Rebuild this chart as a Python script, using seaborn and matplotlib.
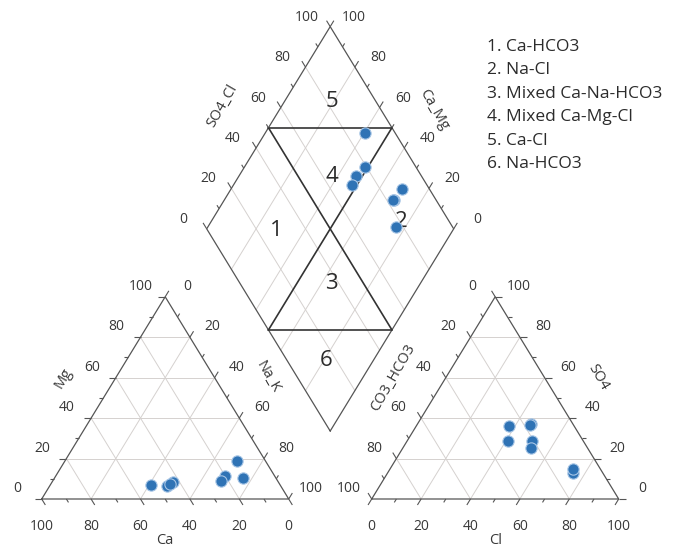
import numpy as np
import pandas as pd
import matplotlib
matplotlib.use('Agg')
import matplotlib.pyplot as plt
import seaborn as sns

# cation percentages (meq %) per sample
ca = [52.3, 46.1, 42.7, 44.5, 11.6, 20.1, 13.4, 23.1]
mg = [7.1, 6.6, 8.6, 7.5, 19.0, 11.3, 10.4, 8.8]
na_k = [40.6, 47.3, 48.7, 48.0, 69.4, 68.6, 76.2, 68.1]

# anion percentages (meq %) per sample
co3_hco3 = [12.2, 26.5, 20.7, 30.3, 10.9, 17.0, 23.0, 17.5]
so4 = [12.8, 35.9, 28.5, 28.7, 14.9, 37.3, 25.4, 36.5]
cl = [75.0, 37.6, 50.8, 41.0, 74.2, 45.7, 51.6, 46.0]

tick_values = [0, 20, 40, 60, 80, 100]
facies = ['1. Ca-HCO3', '2. Na-Cl', '3. Mixed Ca-Na-HCO3',
          '4. Mixed Ca-Mg-Cl', '5. Ca-Cl', '6. Na-HCO3']
region_ids = ['1', '2', '3', '4', '5', '6']

# layout
H = np.sqrt(3) / 2
GAP = 0.336
AN_X0 = 1 + GAP
BX, BY = 1 + GAP / 2, GAP * H
PX_X, PX_Y = 247.0, 233.5  # pixels per data unit
EDGE = '#555555'
GRID = '#d5d1cf'
TXT = '#383838'
POINT = '#2f73b5'

# label anchors of the facies numbers, in (Ca_Mg, SO4_Cl) fractions
region_pos = [(0.714, 0.28), (0.228, 0.807), (0.36, 0.37),
              (0.623, 0.635), (0.809, 0.82), (0.19, 0.16)]


def tri(p0, p1, p2, x0=0.0):
    """left vertex p0, right vertex p1, apex p2 (fractions)"""
    return x0 + p1 + 0.5 * p2, H * p2


def dia(a, s):
    """a = Ca+Mg fraction, s = SO4+Cl fraction"""
    return BX + 0.5 * (s - a), BY + H * (a + s)


def tick(ax, x, y, d, length):
    dx, dy = d
    n = np.hypot(dx * PX_X, dy * PX_Y)
    ax.plot([x, x + dx / n * length], [y, y + dy / n * length],
            color=EDGE, lw=0.8, solid_capstyle='butt')


def label(ax, text, x, y, off, size=10, rot=0):
    ax.annotate(text, xy=(x, y), xytext=off, textcoords='offset pixels',
                ha='center', va='center', fontsize=size, color=TXT,
                rotation=rot, rotation_mode='anchor')


def draw_triangle(ax, x0, edges, titles):
    # grid
    for c in [0.2, 0.4, 0.6, 0.8]:
        for pa, pb in [((c, 1 - c, 0), (c, 0, 1 - c)),
                       ((1 - c, c, 0), (0, c, 1 - c)),
                       ((1 - c, 0, c), (0, 1 - c, c))]:
            xa, ya = tri(*pa, x0=x0)
            xb, yb = tri(*pb, x0=x0)
            ax.plot([xa, xb], [ya, yb], color=GRID, lw=0.7, zorder=1)
    # outline
    vx = [tri(1, 0, 0, x0)[0], tri(0, 1, 0, x0)[0], tri(0, 0, 1, x0)[0]]
    vy = [0, 0, H]
    ax.plot(vx + [vx[0]], vy + [vy[0]], color=EDGE, lw=0.9, zorder=2)
    # ticks and tick labels
    for fn, d, off in edges:
        for v in range(0, 101, 10):
            x, y = fn(v / 100)
            tick(ax, x, y, d, 7 if v % 20 == 0 else 4)
        for v in tick_values:
            x, y = fn(v / 100)
            label(ax, str(v), x, y, off)
    for text, fn, t, off, rot in titles:
        x, y = fn(t)
        label(ax, text, x, y, off, size=10.5, rot=rot)


sns.set_style('white')
plt.rcParams['font.family'] = ['Open Sans', 'DejaVu Sans']

fig = plt.figure(figsize=(6.81, 5.5), dpi=100)
ax = fig.add_axes([0, 0, 1, 1])

# cation triangle: Ca left, Na_K right, Mg top
cat_bottom = lambda t: tri(t, 1 - t, 0)
cat_left = lambda t: tri(1 - t, 0, t)
cat_right = lambda t: tri(0, t, 1 - t)
draw_triangle(ax, 0.0,
              [(cat_bottom, (0.5, -H), (0, -27.5)),
               (cat_left, (-1, 0), (-24, 10.5)),
               (cat_right, (0.5, H), (22.5, 10.5))],
              [('Ca', cat_bottom, 0.5, (0, -42), 0),
               ('Mg', cat_left, 0.6, (-52, 0), 60),
               ('Na_K', cat_right, 0.4, (53, 1), -60)])

# anion triangle: CO3_HCO3 left, Cl right, SO4 top
an_bottom = lambda t: tri(1 - t, t, 0, AN_X0)
an_left = lambda t: tri(t, 0, 1 - t, AN_X0)
an_right = lambda t: tri(0, 1 - t, t, AN_X0)
draw_triangle(ax, AN_X0,
              [(an_bottom, (-0.5, -H), (0, -27.5)),
               (an_left, (-0.5, H), (-22.5, 10.5)),
               (an_right, (1, 0), (23.5, 10.5))],
              [('Cl', an_bottom, 0.5, (0, -42), 0),
               ('CO3_HCO3', an_left, 0.4, (-52.5, 0), 60),
               ('SO4', an_right, 0.6, (54, 0), -60)])

# diamond
for c in [0.2, 0.4, 0.6, 0.8]:
    for pa, pb in [((c, 0), (c, 1)), ((0, c), (1, c))]:
        xa, ya = dia(*pa)
        xb, yb = dia(*pb)
        ax.plot([xa, xb], [ya, yb], color=GRID, lw=0.7, zorder=1)
corners = [dia(0, 0), dia(1, 0), dia(1, 1), dia(0, 1), dia(0, 0)]
ax.plot([p[0] for p in corners], [p[1] for p in corners], color=EDGE, lw=0.9, zorder=2)
for pa, pb in [((1, 0.5), (0.5, 1)), ((1, 0.5), (0, 0.5)),
               ((0.5, 1), (0.5, 0)), ((0.5, 0), (0, 0.5))]:
    xa, ya = dia(*pa)
    xb, yb = dia(*pb)
    ax.plot([xa, xb], [ya, yb], color='#333333', lw=1.2, zorder=2)

dia_left = lambda t: dia(1, t)
dia_right = lambda t: dia(t, 1)
for fn, d, off in [(dia_left, (-0.5, H), (-23, 9.5)), (dia_right, (0.5, H), (23.5, 9.5))]:
    for v in range(0, 101, 10):
        x, y = fn(v / 100)
        tick(ax, x, y, d, 7 if v % 20 == 0 else 4)
    for v in tick_values:
        x, y = fn(v / 100)
        label(ax, str(v), x, y, off)
x, y = dia_left(0.6)
label(ax, 'SO4_Cl', x, y, (-59, 1.5), size=10.5, rot=60)
x, y = dia_right(0.6)
label(ax, 'Ca_Mg', x, y, (54, -2), size=10.5, rot=-60)

for rid, (a, s) in zip(region_ids, region_pos):
    x, y = dia(a, s)
    ax.text(x, y, rid, ha='center', va='center', fontsize=16, color='#2b2b2b')

# sample points
ca_f = np.array(ca) / 100
mg_f = np.array(mg) / 100
nk_f = np.array(na_k) / 100
hc_f = np.array(co3_hco3) / 100
so_f = np.array(so4) / 100
cl_f = np.array(cl) / 100

cx, cy = tri(ca_f, nk_f, mg_f)
axx, ay = tri(hc_f, cl_f, so_f, AN_X0)
dx, dy = dia(ca_f + mg_f, so_f + cl_f)
df = pd.DataFrame({'x': np.concatenate([cx, axx, dx]),
                   'y': np.concatenate([cy, ay, dy])})
sns.scatterplot(data=df, x='x', y='y', ax=ax, s=66, color=POINT,
                edgecolor='#a8c6e6', linewidth=0.8, zorder=5, legend=False)

# facies legend
for i, txt in enumerate(facies):
    fig.text(487 / 681, 1 - (50.7 + 23.5 * i) / 550, txt, fontsize=12.5,
             color='#2b2b2b', ha='left', va='baseline')

ax.set_xlim(-41.7 / PX_X, (681 - 41.7) / PX_X)
ax.set_ylim((499 - 550) / PX_Y, 499 / PX_Y)
ax.axis('off')

fig.savefig('out.png', dpi=100)
